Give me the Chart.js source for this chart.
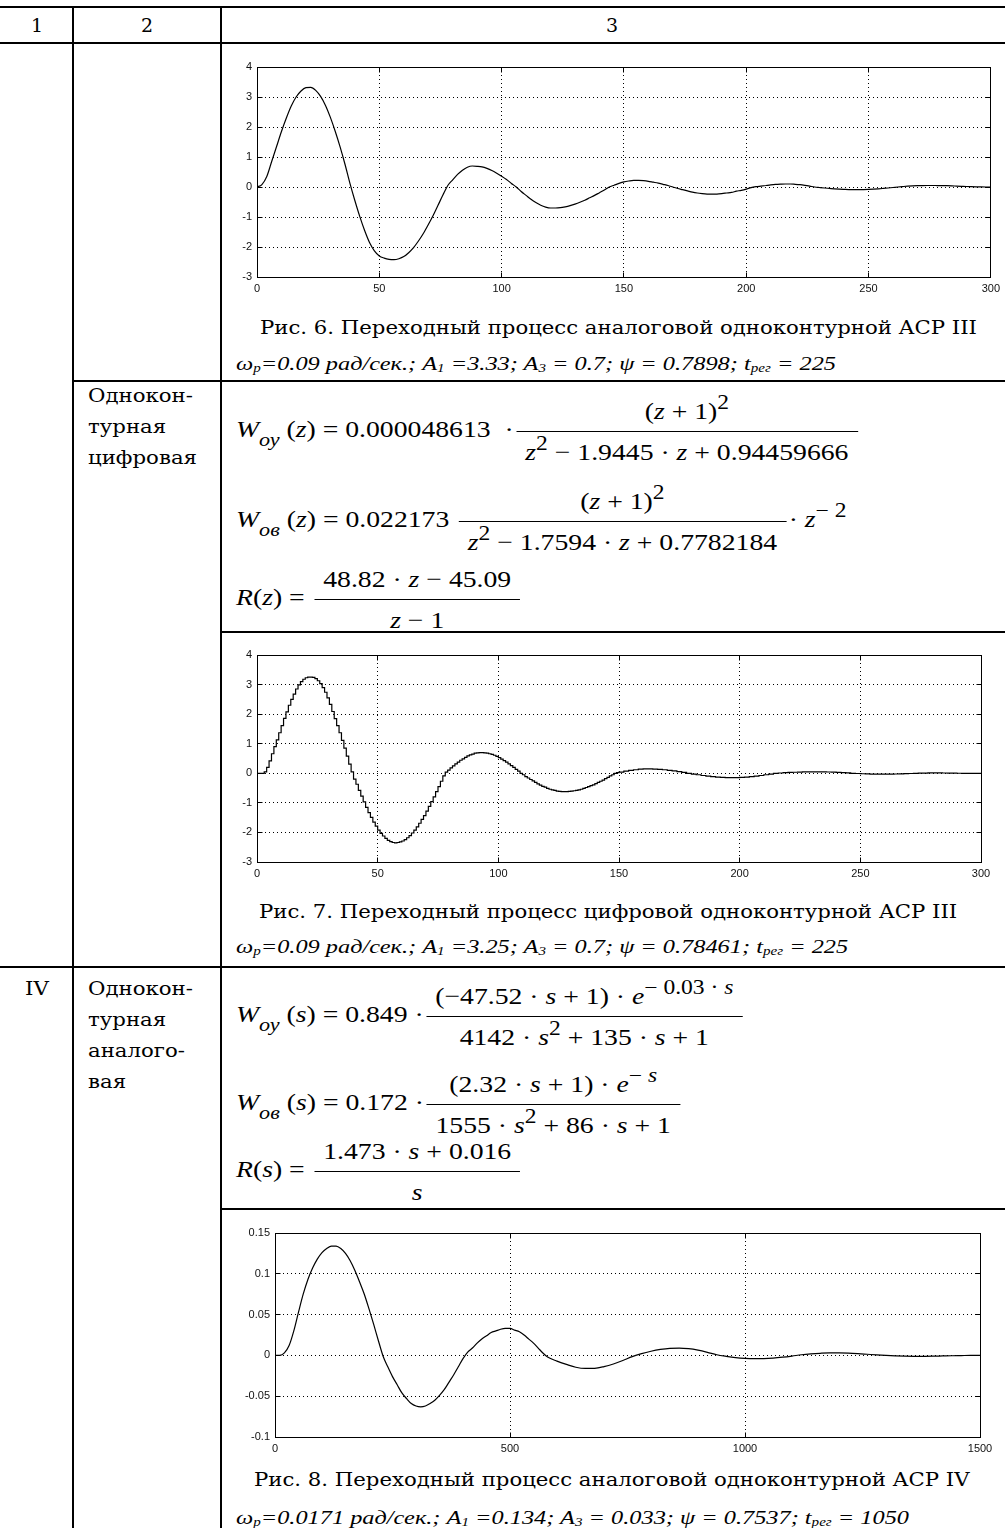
<!DOCTYPE html>
<html><head><meta charset="utf-8">
<script src="https://cdn.jsdelivr.net/npm/chart.js@4"></script>
<style>
html,body{margin:0;padding:0;background:#fff}
body{width:1005px;height:1528px;position:relative;overflow:hidden}
.ln{position:absolute;background:#000}
.t{position:absolute;left:0;top:0;white-space:nowrap;line-height:1;transform-origin:0 0;color:#000}
.t sub{font-size:.62em;vertical-align:baseline;position:relative;top:.22em}
.f{position:absolute;left:0;top:0;white-space:nowrap;line-height:1.15;transform-origin:0 0;font-family:'Liberation Serif','Times New Roman',serif;font-size:24px;color:#000}
.f sup{font-size:.85em;vertical-align:baseline;position:relative;top:-.5em}
.f .sb{font-size:.8em;vertical-align:baseline;position:relative;top:.45em;font-style:italic}
.fr{display:inline-flex;flex-direction:column;align-items:center;vertical-align:baseline;margin:0 2px}
.fr .num{padding:0 8px 5px}
.fr .bar{align-self:stretch;height:1px;background:#000}
.fr .den{padding:7px 8px 0}
.bl{display:inline-block;width:0;height:0}
canvas{position:absolute}
</style></head>
<body>
<script>
// ---------- DATA ----------
const xTicks1 = [0,50,100,150,200,250,300];
const xLabels1 = ['0','50','100','150','200','250','300'];
const yTicks1 = [-3,-2,-1,0,1,2,3,4];
const yLabels1 = ['-3','-2','-1','0','1','2','3','4'];

// Fig. 6 analog response
const t1 = [0,2,4,6,8,10,12,14,16,18,20,22,24,26,28,30,32,34,36,38,40,42,44,46,48,50,52,54,56,58,60,62,64,66,68,70,72,74,76,78,80,82,84,86,88,90,92,94,96,98,100,102,104,106,108,110,112,114,116,118,120,122,124,126,128,130,132,134,136,138,140,142,144,146,148,150,152,154,156,158,160,162,164,166,168,170,172,174,176,178,180,182,184,186,188,190,192,194,196,198,200,202,204,206,208,210,212,214,216,218,220,222,224,226,228,230,232,234,236,238,240,242,244,246,248,250,252,254,256,258,260,262,264,266,268,270,272,274,276,278,280,282,284,286,288,290,292,294,296,298,300];
const y1 = [0,0.08,0.35,0.85,1.35,1.85,2.3,2.7,3.0,3.2,3.31,3.32,3.22,3.02,2.72,2.32,1.85,1.33,0.75,0.12,-0.45,-0.98,-1.45,-1.85,-2.13,-2.3,-2.37,-2.41,-2.42,-2.39,-2.32,-2.19,-2.02,-1.8,-1.55,-1.26,-0.95,-0.61,-0.27,0.05,0.24,0.42,0.56,0.66,0.7,0.69,0.67,0.62,0.55,0.46,0.36,0.25,0.12,0,-0.15,-0.28,-0.41,-0.52,-0.61,-0.67,-0.7,-0.7,-0.69,-0.66,-0.62,-0.57,-0.51,-0.44,-0.36,-0.28,-0.19,-0.1,0,0.06,0.12,0.17,0.2,0.22,0.22,0.21,0.19,0.16,0.13,0.09,0.05,0,-0.05,-0.09,-0.13,-0.17,-0.2,-0.22,-0.235,-0.24,-0.235,-0.22,-0.2,-0.18,-0.14,-0.11,-0.07,-0.02,0.01,0.03,0.05,0.07,0.085,0.094,0.1,0.1,0.09,0.076,0.054,0.028,0,-0.017,-0.033,-0.047,-0.061,-0.072,-0.08,-0.087,-0.09,-0.09,-0.088,-0.082,-0.073,-0.062,-0.048,-0.033,-0.017,0,0.014,0.027,0.037,0.044,0.048,0.05,0.05,0.049,0.047,0.043,0.038,0.031,0.024,0.017,0.011,0.006,0.002,0,0];

// Fig. 7 digital (sampled) response
const t2 = [0,1,2,3,4,5,6,7,8,9,10,11,12,13,14,15,16,17,18,19,20,21,22,23,24,25,26,27,28,29,30,31,32,33,34,35,36,37,38,39,40,41,42,43,44,45,46,47,48,49,50,51,52,53,54,55,56,57,58,59,60,61,62,63,64,65,66,67,68,69,70,71,72,73,74,75,76,77,78,79,80,81,82,83,84,85,86,87,88,89,90,91,92,93,94,95,96,97,98,99,100,101,102,103,104,105,106,107,108,109,110,111,112,113,114,115,116,117,118,119,120,121,122,123,124,125,126,127,128,129,130,131,132,133,134,135,136,137,138,139,140,141,142,143,144,145,146,147,148,149,150,152,154,156,158,160,162,164,166,168,170,172,174,176,178,180,182,184,186,188,190,192,194,196,198,200,202,204,206,208,210,212,214,216,218,220,222,224,226,228,230,232,234,236,238,240,242,244,246,248,250,252,254,256,258,260,262,264,266,268,270,272,274,276,278,280,282,284,286,288,290,292,294,296,298,300];
const y2 = [0,0,0,0.05,0.2,0.42,0.66,0.9,1.13,1.37,1.61,1.86,2.08,2.3,2.5,2.68,2.85,2.99,3.1,3.18,3.23,3.25,3.25,3.24,3.2,3.13,3.03,2.9,2.74,2.55,2.33,2.09,1.85,1.61,1.37,1.11,0.85,0.58,0.31,0.05,-0.2,-0.37,-0.58,-0.77,-0.97,-1.15,-1.33,-1.49,-1.65,-1.79,-1.92,-2.03,-2.12,-2.2,-2.27,-2.31,-2.34,-2.35,-2.34,-2.32,-2.29,-2.24,-2.18,-2.11,-2.02,-1.92,-1.81,-1.69,-1.56,-1.43,-1.28,-1.12,-0.96,-0.8,-0.62,-0.45,-0.27,-0.09,0.04,0.11,0.18,0.25,0.32,0.38,0.44,0.49,0.54,0.59,0.62,0.65,0.68,0.69,0.7,0.7,0.69,0.68,0.66,0.64,0.61,0.57,0.53,0.48,0.43,0.38,0.32,0.26,0.2,0.13,0.07,0,-0.05,-0.11,-0.16,-0.21,-0.26,-0.31,-0.36,-0.4,-0.44,-0.47,-0.51,-0.54,-0.56,-0.58,-0.6,-0.61,-0.62,-0.62,-0.62,-0.61,-0.6,-0.59,-0.58,-0.56,-0.54,-0.51,-0.48,-0.45,-0.42,-0.39,-0.35,-0.31,-0.27,-0.23,-0.18,-0.14,-0.09,-0.05,0,0.02,0.04,0.07,0.1,0.12,0.14,0.15,0.15,0.144,0.134,0.12,0.1,0.08,0.054,0.028,0,-0.026,-0.05,-0.075,-0.096,-0.115,-0.13,-0.14,-0.148,-0.15,-0.148,-0.14,-0.13,-0.115,-0.096,-0.075,-0.05,-0.026,0,0.01,0.019,0.028,0.035,0.042,0.046,0.049,0.05,0.05,0.048,0.044,0.038,0.03,0.021,0.011,0,-0.008,-0.015,-0.021,-0.026,-0.029,-0.03,-0.03,-0.028,-0.024,-0.019,-0.013,-0.007,0,0.004,0.008,0.011,0.012,0.012,0.01,0.008,0.005,0.002,0,0,0,0,0];

// Fig. 8 analog response (IV)
const xTicks3 = [0,500,1000,1500];
const xLabels3 = ['0','500','1000','1500'];
const yTicks3 = [-0.1,-0.05,0,0.05,0.1,0.15];
const yLabels3 = ['-0.1','-0.05','0','0.05','0.1','0.15'];
const t3 = [0,10,20,30,40,50,60,70,80,90,100,110,120,130,140,150,160,170,180,190,200,210,220,230,240,250,260,270,280,290,300,310,320,330,340,350,360,370,380,390,400,410,420,430,440,450,460,470,480,490,500,510,520,530,540,550,560,570,580,600,620,640,660,680,700,720,740,760,780,800,820,840,860,880,900,920,940,960,980,1000,1020,1040,1060,1080,1100,1120,1140,1160,1180,1200,1220,1240,1260,1280,1300,1320,1340,1360,1380,1400,1420,1440,1460,1480,1500];
const y3 = [0,0,0.003,0.012,0.03,0.053,0.075,0.093,0.107,0.118,0.126,0.131,0.134,0.134,0.131,0.125,0.116,0.104,0.09,0.075,0.057,0.038,0.018,-0.001,-0.014,-0.026,-0.036,-0.046,-0.053,-0.059,-0.062,-0.063,-0.062,-0.059,-0.055,-0.049,-0.042,-0.033,-0.024,-0.014,-0.004,0.004,0.009,0.015,0.02,0.024,0.028,0.03,0.032,0.033,0.033,0.031,0.029,0.025,0.02,0.015,0.009,0.003,-0.002,-0.007,-0.011,-0.0145,-0.016,-0.0158,-0.0137,-0.0105,-0.0063,-0.0015,0.0022,0.0051,0.0073,0.0087,0.009,0.0082,0.0064,0.0038,0.0008,-0.0012,-0.0028,-0.0037,-0.004,-0.0039,-0.0033,-0.0022,-0.0008,0.0008,0.0019,0.0026,0.003,0.003,0.0028,0.0022,0.0014,0.0006,0,-0.0005,-0.0009,-0.0011,-0.0011,-0.001,-0.0007,-0.0004,-0.0002,0,0];

// ---------- LAYOUT ----------
function line(l,t,w,h){const d=document.createElement('div');d.className='ln';Object.assign(d.style,{left:l+'px',top:t+'px',width:w+'px',height:h+'px'});document.body.appendChild(d);}
line(0,6,1005,2);
line(0,42,1005,2);
line(72,6,2,1522);
line(220,6,2,1522);
line(72,380,933,2);
line(220,631,785,2);
line(0,966,1005,2);
line(220,1208,785,2);

const SERIF="'DejaVu Serif', serif";
const TIMES="'Liberation Serif', 'Times New Roman', serif";
const FS=24;

function txt(html,o){
  const d=document.createElement('div');d.className='t';d.innerHTML=html;
  d.style.fontFamily=o.font;d.style.fontSize=o.size+'px';
  if(o.italic)d.style.fontStyle='italic';
  document.body.appendChild(d);
  const r=d.getBoundingClientRect();
  const sx=o.w?o.w/r.width:(o.sx||1);
  const left=o.align==='c'?o.x-r.width*sx/2:o.x;
  d.style.left=left+'px';d.style.top=(o.y-r.height/2)+'px';
  d.style.transform='scaleX('+sx+')';
  return sx;
}

// header
txt('1',{x:37,y:25,size:19,font:SERIF,align:'c'});
txt('2',{x:147,y:25,size:19,font:SERIF,align:'c'});
txt('3',{x:612,y:25,size:19,font:SERIF,align:'c'});

// left column
const sxL=txt('цифровая',{x:88,y:457,size:19,font:SERIF,w:109});
txt('Однокон-',{x:88,y:395,size:19,font:SERIF,sx:sxL});
txt('турная',{x:88,y:426,size:19,font:SERIF,sx:sxL});
txt('IV',{x:37,y:988,size:19,font:SERIF,align:'c',sx:sxL});
txt('Однокон-',{x:88,y:988,size:19,font:SERIF,sx:sxL});
txt('турная',{x:88,y:1019,size:19,font:SERIF,sx:sxL});
txt('аналого-',{x:88,y:1050,size:19,font:SERIF,sx:sxL});
txt('вая',{x:88,y:1081,size:19,font:SERIF,sx:sxL});

// captions
const sxC=txt('Рис. 6. Переходный процесс аналоговой одноконтурной АСР III',{x:618,y:328,size:18,font:SERIF,align:'c',w:717});
txt('Рис. 7. Переходный процесс цифровой одноконтурной АСР III',{x:608,y:912,size:18,font:SERIF,align:'c',sx:sxC});
txt('Рис. 8. Переходный процесс аналоговой одноконтурной АСР IV',{x:612,y:1480,size:18,font:SERIF,align:'c',sx:sxC});

// parameter lines
const sxP=txt('ω<sub>р</sub>=0.09 рад/сек.; A<sub>1</sub> =3.33; A<sub>3</sub> = 0.7; ψ = 0.7898; t<sub>рег</sub> = 225',{x:236,y:363,size:19,font:TIMES,italic:true,w:600});
txt('ω<sub>р</sub>=0.09 рад/сек.; A<sub>1</sub> =3.25; A<sub>3</sub> = 0.7; ψ = 0.78461; t<sub>рег</sub> = 225',{x:236,y:946,size:19,font:TIMES,italic:true,sx:sxP});
txt('ω<sub>р</sub>=0.0171 рад/сек.; A<sub>1</sub> =0.134; A<sub>3</sub> = 0.033; ψ = 0.7537; t<sub>рег</sub> = 1050',{x:236,y:1517,size:19,font:TIMES,italic:true,sx:sxP});

// formulas
function frac(n,d){return '<span class="fr"><span class="num">'+n+'</span><span class="bar"></span><span class="den">'+d+'</span></span>';}
function formula(html,o){
  const d=document.createElement('div');d.className='f';
  d.innerHTML='<span class="bl"></span>'+html;
  document.body.appendChild(d);
  const base=d.querySelector('.bl').getBoundingClientRect().bottom;
  d.querySelectorAll('.fr').forEach(fr=>{
    const b=fr.querySelector('.bar').getBoundingClientRect().top;
    fr.style.position='relative';
    fr.style.top=(base-0.27*FS-b)+'px';
  });
  const r=d.getBoundingClientRect();
  const bar=d.querySelector('.bar').getBoundingClientRect().top-r.top;
  const sx=o.w?o.w/r.width:o.sx;
  d.style.left=o.x+'px';d.style.top=(o.barY-bar)+'px';
  d.style.transform='scaleX('+sx+')';
  return sx;
}
const I=s=>'<i>'+s+'</i>';
const sxF=formula(I('W')+'<span class="sb">оу</span>&nbsp;('+I('z')+') = 0.000048613 &nbsp;·'+frac('('+I('z')+' + 1)<sup>2</sup>',I('z')+'<sup>2</sup> − 1.9445 · '+I('z')+' + 0.94459666'),{x:236,barY:431,w:624});
formula(I('W')+'<span class="sb">ов</span>&nbsp;('+I('z')+') = 0.022173 '+frac('('+I('z')+' + 1)<sup>2</sup>',I('z')+'<sup>2</sup> − 1.7594 · '+I('z')+' + 0.7782184')+'· '+I('z')+'<sup>− 2</sup>',{x:236,barY:521,sx:sxF});
formula(I('R')+'('+I('z')+') = '+frac('48.82 · '+I('z')+' − 45.09',I('z')+' − 1'),{x:236,barY:599,sx:sxF});
formula(I('W')+'<span class="sb">оу</span>&nbsp;('+I('s')+') = 0.849 ·'+frac('(−47.52 · '+I('s')+' + 1) · '+I('e')+'<sup>− 0.03 · '+I('s')+'</sup>','4142 · '+I('s')+'<sup>2</sup> + 135 · '+I('s')+' + 1'),{x:236,barY:1016,sx:sxF});
formula(I('W')+'<span class="sb">ов</span>&nbsp;('+I('s')+') = 0.172 ·'+frac('(2.32 · '+I('s')+' + 1) · '+I('e')+'<sup>− '+I('s')+'</sup>','1555 · '+I('s')+'<sup>2</sup> + 86 · '+I('s')+' + 1'),{x:236,barY:1104,sx:sxF});
formula(I('R')+'('+I('s')+') = '+frac('1.473 · '+I('s')+' + 0.016',I('s')),{x:236,barY:1171,sx:sxF});

// ---------- CHARTS ----------
const alignPx=p=>Math.round(p-0.5)+0.5;
const boxPlugin={id:'mbox',afterDraw(chart){
  const {ctx,chartArea:a,scales:{x,y}}=chart;
  ctx.save();ctx.strokeStyle='#000';ctx.lineWidth=1;ctx.setLineDash([]);
  const L=alignPx(a.left),R=alignPx(a.right),T=alignPx(a.top),B=alignPx(a.bottom);
  ctx.strokeRect(L,T,R-L,B-T);
  ctx.beginPath();
  x.ticks.forEach(t=>{const p=alignPx(x.getPixelForValue(t.value));ctx.moveTo(p,B);ctx.lineTo(p,B-5);ctx.moveTo(p,T);ctx.lineTo(p,T+5);});
  y.ticks.forEach(t=>{const p=alignPx(y.getPixelForValue(t.value));ctx.moveTo(L,p);ctx.lineTo(L+5,p);ctx.moveTo(R,p);ctx.lineTo(R-5,p);});
  ctx.stroke();ctx.restore();
}};

function mkChart(xs,ys,o){
  const c=document.createElement('canvas');
  c.width=o.w;c.height=o.h;c.style.left=o.left+'px';c.style.top=o.top+'px';
  c.style.width=o.w+'px';c.style.height=o.h+'px';
  document.body.appendChild(c);
  const tickFont={family:"'Liberation Sans', Arial, sans-serif",size:11};
  const gridOpts={color:'#000',lineWidth:1,drawTicks:false,borderDash:[1,3]};
  new Chart(c,{type:'line',
    data:{datasets:[{data:xs.map((x,i)=>({x:x,y:ys[i]})),borderColor:'#000',borderWidth:1.2,pointRadius:0,fill:false,
      stepped:o.stepped||false,tension:o.stepped?0:0.4,cubicInterpolationMode:'monotone'}]},
    options:{responsive:false,animation:false,devicePixelRatio:1,
      layout:{padding:{top:o.padTop,right:o.padRight,left:0,bottom:0}},
      plugins:{legend:{display:false},tooltip:{enabled:false}},
      scales:{
        x:{type:'linear',min:o.xMin,max:o.xMax,
          afterBuildTicks:s=>{s.ticks=o.xTicks.map(v=>({value:v}));},
          afterFit:s=>{s.height=o.xH;},
          grid:gridOpts,border:{display:false,dash:[1,3]},
          ticks:{padding:5,color:'#111',font:tickFont,maxRotation:0,autoSkip:false,callback:(v,i)=>o.xLabels[i]}},
        y:{type:'linear',min:o.yMin,max:o.yMax,
          afterBuildTicks:s=>{s.ticks=o.yTicks.map(v=>({value:v}));},
          afterFit:s=>{s.width=o.yW;},
          grid:gridOpts,border:{display:false,dash:[1,3]},
          ticks:{padding:5,color:'#111',font:tickFont,autoSkip:false,callback:(v,i)=>o.yLabels[i]}}
      }},
    plugins:[boxPlugin]});
}

mkChart(t1,y1,{left:222,top:48,w:783,h:252,padTop:19,padRight:13,yW:35,xH:23,
  xMin:0,xMax:300,xTicks:xTicks1,xLabels:xLabels1,yMin:-3,yMax:4,yTicks:yTicks1,yLabels:yLabels1});
mkChart(t2,y2,{left:222,top:636,w:783,h:250,padTop:19,padRight:24,yW:35,xH:24,stepped:true,
  xMin:0,xMax:300,xTicks:xTicks1,xLabels:xLabels1,yMin:-3,yMax:4,yTicks:yTicks1,yLabels:yLabels1});
mkChart(t3,y3,{left:222,top:1214,w:783,h:250,padTop:19,padRight:25,yW:53,xH:27,
  xMin:0,xMax:1500,xTicks:xTicks3,xLabels:xLabels3,yMin:-0.1,yMax:0.15,yTicks:yTicks3,yLabels:yLabels3});
</script>
</body></html>
